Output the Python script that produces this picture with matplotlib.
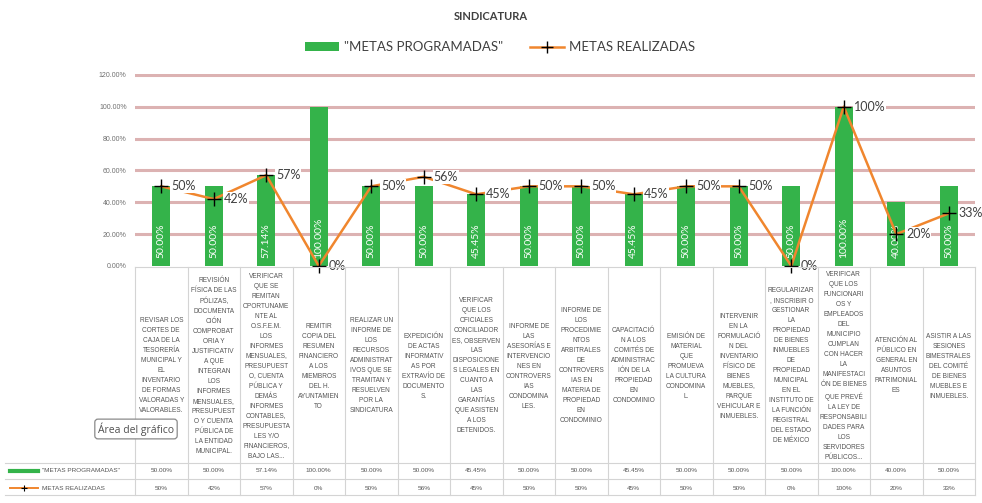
#!/usr/bin/env python3
"""Sindicatura: metas programadas vs realizadas, con tabla de datos al pie."""

import matplotlib

matplotlib.use("Agg")
import matplotlib.pyplot as plt
from matplotlib.lines import Line2D
from matplotlib.patches import Patch
from matplotlib.transforms import blended_transform_factory
import numpy as np


TITLE = "SINDICATURA"
SERIES_PROG = '"METAS PROGRAMADAS"'
SERIES_REAL = "METAS REALIZADAS"

CATEGORIES = [
    "REVISAR LOS\nCORTES DE\nCAJA DE LA\nTESORERÍA\nMUNICIPAL Y\nEL\nINVENTARIO\nDE FORMAS\nVALORADAS Y\nVALORABLES.",
    "REVISIÓN\nFÍSICA DE LAS\nPÓLIZAS,\nDOCUMENTA\nCIÓN\nCOMPROBAT\nORIA Y\nJUSTIFICATIV\nA QUE\nINTEGRAN\nLOS\nINFORMES\nMENSUALES,\nPRESUPUEST\nO Y CUENTA\nPÚBLICA DE\nLA ENTIDAD\nMUNICIPAL.",
    "VERIFICAR\nQUE SE\nREMITAN\nOPORTUNAME\nNTE AL\nO.S.F.E.M.\nLOS\nINFORMES\nMENSUALES,\nPRESUPUEST\nO, CUENTA\nPÚBLICA Y\nDEMÁS\nINFORMES\nCONTABLES,\nPRESUPUESTA\nLES Y/O\nFINANCIEROS,\nBAJO LAS...",
    "REMITIR\nCOPIA DEL\nRESUMEN\nFINANCIERO\nA LOS\nMIEMBROS\nDEL H.\nAYUNTAMIEN\nTO",
    "REALIZAR UN\nINFORME DE\nLOS\nRECURSOS\nADMINISTRAT\nIVOS QUE SE\nTRAMITAN Y\nRESUELVEN\nPOR LA\nSINDICATURA",
    "EXPEDICIÓN\nDE ACTAS\nINFORMATIV\nAS POR\nEXTRAVÍO DE\nDOCUMENTO\nS.",
    "VERIFICAR\nQUE LOS\nOFICIALES\nCONCILIADOR\nES, OBSERVEN\nLAS\nDISPOSICIONE\nS LEGALES EN\nCUANTO A\nLAS\nGARANTÍAS\nQUE ASISTEN\nA LOS\nDETENIDOS.",
    "INFORME DE\nLAS\nASESORÍAS E\nINTERVENCIO\nNES EN\nCONTROVERS\nIAS\nCONDOMINA\nLES.",
    "INFORME DE\nLOS\nPROCEDIMIE\nNTOS\nARBITRALES\nDE\nCONTROVERS\nIAS EN\nMATERIA DE\nPROPIEDAD\nEN\nCONDOMINIO",
    "CAPACITACIÓ\nN A LOS\nCOMITÉS DE\nADMINISTRAC\nIÓN DE LA\nPROPIEDAD\nEN\nCONDOMINIO",
    "EMISIÓN DE\nMATERIAL\nQUE\nPROMUEVA\nLA CULTURA\nCONDOMINA\nL.",
    "INTERVENIR\nEN LA\nFORMULACIÓ\nN DEL\nINVENTARIO\nFÍSICO DE\nBIENES\nMUEBLES,\nPARQUE\nVEHICULAR E\nINMUEBLES.",
    "REGULARIZAR\n, INSCRIBIR O\nGESTIONAR\nLA\nPROPIEDAD\nDE BIENES\nINMUEBLES\nDE\nPROPIEDAD\nMUNICIPAL\nEN EL\nINSTITUTO DE\nLA FUNCIÓN\nREGISTRAL\nDEL ESTADO\nDE MÉXICO",
    "VERIFICAR\nQUE LOS\nFUNCIONARI\nOS Y\nEMPLEADOS\nDEL\nMUNICIPIO\nCUMPLAN\nCON HACER\nLA\nMANIFESTACI\nÓN DE BIENES\nQUE PREVÉ\nLA LEY DE\nRESPONSABILI\nDADES PARA\nLOS\nSERVIDORES\nPÚBLICOS...",
    "ATENCIÓN AL\nPÚBLICO EN\nGENERAL EN\nASUNTOS\nPATRIMONIAL\nES",
    "ASISTIR A LAS\nSESIONES\nBIMESTRALES\nDEL COMITÉ\nDE BIENES\nMUEBLES E\nINMUEBLES.",
]

PROGRAMADAS = [0.50, 0.50, 0.5714, 1.00, 0.50, 0.50, 0.4545, 0.50,
               0.50, 0.4545, 0.50, 0.50, 0.50, 1.00, 0.40, 0.50]
REALIZADAS = [0.50, 0.42, 0.57, 0.00, 0.50, 0.56, 0.45, 0.50,
              0.50, 0.45, 0.50, 0.50, 0.00, 1.00, 0.20, 0.33]

Y_TICKS = [0.0, 0.2, 0.4, 0.6, 0.8, 1.0, 1.2]

TOOLTIP = "Área del gráfico"

GREEN = "#34b34a"
ORANGE = "#f0862e"
GRID = "#dcb2b2"
CELL = "#d4d4d4"
TXT = "#404040"

W, H = 982, 503


def fy(px: float) -> float:
    return 1.0 - px / H


def fx(px: float) -> float:
    return px / W


def main() -> int:
    plt.rcParams["font.family"] = ["Lato", "DejaVu Sans"]
    fig = plt.figure(figsize=(W / 100, H / 100), dpi=100)
    fig.patch.set_facecolor("white")

    ax = fig.add_axes([fx(135), fy(266), fx(975) - fx(135), fy(74) - fy(266)])
    x = np.arange(len(CATEGORIES))
    ax.set_xlim(-0.5, len(CATEGORIES) - 0.5)
    ax.set_ylim(0, 1.205)

    ax.set_yticks(Y_TICKS)
    ax.set_yticklabels([f"{v * 100:.2f}%" for v in Y_TICKS], fontsize=5, color="#707070",
                       family=["Liberation Sans"])
    ax.tick_params(axis="y", length=0, pad=6)
    ax.set_xticks([])
    for s in ax.spines.values():
        s.set_visible(False)
    for v in Y_TICKS[1:]:
        ax.axhline(v, color=GRID, lw=2.2, zorder=0)

    ax.bar(x, PROGRAMADAS, width=0.35, color=GREEN, zorder=2)
    for xi, v in zip(x, PROGRAMADAS):
        ax.annotate(f"{v * 100:.2f}%", (xi, 0), xytext=(0, 6), textcoords="offset points",
                    rotation=90, ha="center", va="bottom", color="white", fontsize=7.5, zorder=3)

    ax.plot(x, REALIZADAS, color=ORANGE, lw=1.8, marker="+", markersize=10,
            markeredgecolor="black", markeredgewidth=1.0, zorder=4, clip_on=False)
    for xi, v in zip(x, REALIZADAS):
        ax.annotate(f"{v * 100:.0f}%", (xi, v), xytext=(7, 0), textcoords="offset points",
                    ha="left", va="center", color=TXT, fontsize=9, zorder=5, annotation_clip=False,
                    bbox={"facecolor": "white", "edgecolor": "none", "pad": 0.6})

    fig.text(0.5, fy(17), TITLE, ha="center", va="center", fontsize=8, weight="bold", color=TXT)
    handles = [
        Patch(facecolor=GREEN, edgecolor="none"),
        Line2D([], [], color=ORANGE, lw=1.8, marker="+", markersize=9,
               markeredgecolor="black", markeredgewidth=1.0),
    ]
    fig.legend(handles, [SERIES_PROG, SERIES_REAL], loc="center", bbox_to_anchor=(fx(500), fy(47)),
               ncol=2, frameon=False, fontsize=9.5, handlelength=2.6, handleheight=0.6,
               columnspacing=2.0, handletextpad=0.4, labelcolor=TXT)

    # tabla de datos
    bt = blended_transform_factory(ax.transData, fig.transFigure)
    for i in range(len(CATEGORIES) + 1):
        fig.add_artist(Line2D([i - 0.5, i - 0.5], [fy(267), fy(495)], transform=bt, color=CELL, lw=0.8))
    for py in (267, 463, 479, 495):
        x0 = fx(135) if py == 267 else fx(5)
        fig.add_artist(Line2D([x0, fx(975)], [fy(py), fy(py)], color=CELL, lw=0.8))
    for xi, label in zip(x, CATEGORIES):
        fig.text(xi, fy(366), label, transform=bt, ha="center", va="center", fontsize=4.7,
                 linespacing=1.6, color="#555555", family=["Liberation Sans"])
    for xi, v in zip(x, PROGRAMADAS):
        fig.text(xi, fy(471), f"{v * 100:.2f}%", transform=bt, ha="center", va="center",
                 fontsize=4.6, color="#555555", family=["Liberation Sans"])
    for xi, v in zip(x, REALIZADAS):
        fig.text(xi, fy(488), f"{v * 100:.0f}%", transform=bt, ha="center", va="center",
                 fontsize=4.6, color="#555555", family=["Liberation Sans"])

    fig.add_artist(Line2D([fx(10), fx(38)], [fy(471), fy(471)], color=GREEN, lw=3))
    fig.add_artist(Line2D([fx(10), fx(38)], [fy(488), fy(488)], color=ORANGE, lw=1.4))
    fig.add_artist(Line2D([fx(24)], [fy(488)], color="black", marker="+", markersize=5, markeredgewidth=0.8))
    fig.text(fx(42), fy(471), SERIES_PROG, ha="left", va="center", fontsize=4.6, color="#555555",
             family=["Liberation Sans"])
    fig.text(fx(42), fy(488), SERIES_REAL, ha="left", va="center", fontsize=4.6, color="#555555",
             family=["Liberation Sans"])

    fig.text(fx(136), fy(429), TOOLTIP, ha="center", va="center", fontsize=7.5, color="#505050",
             family=["Open Sans", "DejaVu Sans"],
             bbox={"boxstyle": "round,pad=0.3", "facecolor": "white", "edgecolor": "#8a8a8a", "lw": 0.9})

    fig.savefig("out.png", dpi=100, facecolor="white")
    plt.close(fig)
    return 0


if __name__ == "__main__":
    raise SystemExit(main())
